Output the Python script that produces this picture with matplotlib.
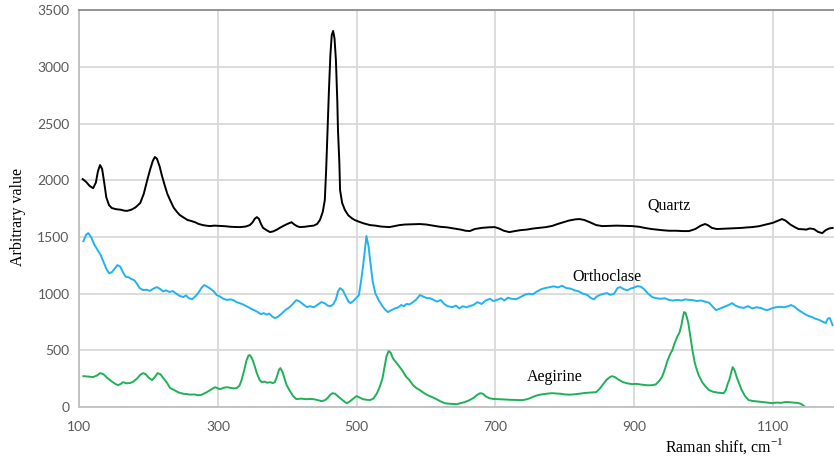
import matplotlib.pyplot as plt

# Raman spectra
quartz_x = [105, 110, 115, 120, 124, 127, 130, 133, 136, 139, 143, 147, 153, 160, 165, 169, 175, 181,
            188, 193, 198, 202, 206, 209, 212, 216, 219, 223, 227, 231, 236, 241, 245, 251, 256, 262,
            267, 272, 278, 283, 288, 295, 302, 310, 318, 325, 332, 340, 346, 350, 353, 356, 359, 362,
            365, 370, 375, 380, 385, 389, 395, 400, 406, 410, 414, 418, 425, 432, 438, 443, 447, 451,
            454, 456, 458, 460, 462, 464, 466, 468, 470, 472, 473, 475, 476, 479, 483, 488, 493, 497,
            503, 510, 519, 527, 535, 547, 555, 562, 570, 580, 591, 600, 610, 620, 630, 640, 650, 657,
            663, 670, 680, 690, 699, 705, 712, 720, 728, 736, 745, 755, 765, 773, 782, 790, 798, 806,
            815, 821, 828, 836, 845, 854, 865, 875, 885, 897, 907, 915, 925, 932, 940, 950, 960, 970,
            979, 988, 996, 1002, 1006, 1012, 1019, 1026, 1035, 1045, 1055, 1062, 1070, 1080, 1090,
            1100, 1108, 1113, 1118, 1125, 1132, 1137, 1143, 1148, 1153, 1159, 1165, 1171, 1176, 1181,
            1186]
quartz_y = [2010, 1985, 1950, 1930, 1980, 2080, 2134, 2100, 1980, 1850, 1780, 1755, 1745, 1740, 1732,
            1730, 1740, 1760, 1800, 1880, 2000, 2090, 2170, 2205, 2190, 2120, 2045, 1960, 1880, 1825,
            1760, 1720, 1693, 1670, 1650, 1640, 1630, 1615, 1605, 1600, 1596, 1600, 1598, 1595, 1590,
            1588, 1587, 1592, 1605, 1630, 1660, 1675, 1660, 1615, 1580, 1560, 1543, 1550, 1565, 1580,
            1600, 1615, 1630, 1610, 1595, 1587, 1590, 1596, 1600, 1615, 1650, 1720, 1825, 2100, 2443,
            2800, 3100, 3280, 3316, 3250, 3060, 2700, 2440, 2150, 1913, 1800, 1737, 1690, 1665, 1650,
            1635, 1620, 1605, 1600, 1592, 1587, 1597, 1605, 1610, 1612, 1614, 1610, 1600, 1590, 1585,
            1575, 1565, 1555, 1552, 1570, 1580, 1585, 1587, 1575, 1555, 1543, 1552, 1560, 1565, 1575,
            1582, 1587, 1598, 1615, 1630, 1645, 1655, 1658, 1650, 1630, 1605, 1596, 1598, 1600, 1598,
            1596, 1590, 1580, 1570, 1565, 1560, 1555, 1555, 1552, 1552, 1570, 1600, 1614, 1605, 1580,
            1570, 1572, 1575, 1578, 1580, 1584, 1587, 1595, 1610, 1625, 1645, 1658, 1645, 1610, 1585,
            1570, 1568, 1565, 1575, 1570, 1545, 1534, 1560, 1575, 1580]

orthoclase_x = [106, 110, 113, 117, 122, 127, 131, 135, 139, 143, 147, 151, 155, 159, 163, 167, 171,
                175, 179, 183, 187, 192, 197, 202, 207, 212, 217, 221, 225, 230, 235, 240, 245, 250,
                254, 258, 263, 268, 272, 276, 280, 285, 290, 294, 298, 303, 308, 313, 318, 322, 327,
                332, 336, 341, 346, 350, 354, 358, 362, 366, 370, 374, 378, 382, 386, 390, 394, 398,
                403, 408, 413, 418, 423, 428, 433, 438, 443, 449, 454, 458, 462, 466, 470, 473, 476,
                480, 484, 488, 491, 495, 499, 503, 506, 509, 512, 514, 517, 520, 523, 527, 532, 537,
                541, 545, 550, 555, 560, 564, 568, 572, 576, 581, 586, 591, 596, 601, 606, 611, 616,
                621, 626, 631, 638, 643, 648, 653, 658, 663, 668, 674, 680, 686, 692, 697, 702, 708,
                713, 718, 723, 730, 736, 742, 748, 754, 760, 766, 772, 778, 784, 790, 796, 802, 808,
                814, 820, 826, 832, 838, 842, 846, 851, 856, 861, 866, 871, 876, 880, 885, 890, 895,
                900, 905, 910, 915, 920, 926, 932, 938, 944, 950, 956, 962, 968, 974, 980, 984, 990,
                996, 1002, 1008, 1014, 1018, 1024, 1030, 1036, 1041, 1046, 1052, 1058, 1064, 1070,
                1076, 1082, 1088, 1092, 1098, 1104, 1110, 1116, 1122, 1126, 1131, 1136, 1141, 1146,
                1151, 1156, 1161, 1166, 1171, 1176, 1179, 1182, 1186]
orthoclase_y = [1463, 1520, 1534, 1500, 1430, 1380, 1340, 1280, 1220, 1180, 1190, 1220, 1252, 1240,
                1190, 1150, 1145, 1130, 1120, 1090, 1050, 1032, 1035, 1025, 1045, 1058, 1040, 1020,
                1030, 1015, 1023, 1000, 980, 970, 985, 960, 952, 980, 1010, 1050, 1076, 1060, 1040,
                1020, 988, 975, 955, 945, 950, 944, 925, 915, 905, 890, 873, 860, 850, 835, 820, 829,
                815, 825, 800, 785, 795, 815, 838, 860, 880, 910, 944, 930, 905, 882, 890, 880, 900,
                926, 915, 895, 890, 905, 950, 1020, 1049, 1030, 980, 930, 917, 935, 960, 985, 1100,
                1235, 1400, 1508, 1420, 1260, 1110, 1000, 940, 890, 860, 838, 855, 870, 880, 900, 890,
                910, 905, 925, 950, 988, 975, 961, 960, 945, 930, 945, 910, 890, 882, 895, 870, 890,
                880, 891, 900, 925, 910, 940, 955, 935, 945, 960, 940, 965, 955, 952, 970, 990, 1000,
                995, 1020, 1040, 1050, 1058, 1065, 1055, 1070, 1050, 1045, 1030, 1020, 1000, 990, 960,
                950, 975, 990, 1000, 1005, 990, 1000, 1050, 1058, 1040, 1030, 1045, 1055, 1067, 1060,
                1035, 1000, 970, 960, 955, 960, 945, 940, 945, 940, 950, 945, 944, 935, 940, 930, 920,
                880, 855, 870, 885, 900, 917, 895, 880, 875, 890, 870, 880, 875, 860, 855, 870, 880,
                885, 880, 890, 900, 885, 860, 840, 820, 805, 794, 780, 770, 755, 741, 780, 785, 723]

aegirine_x = [106, 112, 120, 126, 130, 135, 140, 146, 152, 156, 160, 163, 168, 173, 178, 183, 188,
              192, 196, 200, 205, 209, 213, 217, 222, 227, 231, 237, 243, 250, 255, 260, 266, 271,
              276, 280, 284, 290, 296, 300, 303, 308, 313, 318, 323, 327, 331, 334, 338, 341, 344,
              346, 349, 352, 356, 360, 363, 367, 371, 375, 379, 382, 385, 388, 390, 393, 396, 399,
              403, 408, 413, 420, 427, 433, 437, 442, 449, 454, 458, 462, 465, 469, 473, 478, 483,
              486, 490, 494, 498, 500, 504, 509, 514, 519, 524, 529, 533, 537, 540, 543, 546, 549,
              552, 556, 560, 566, 571, 576, 581, 586, 591, 598, 604, 609, 615, 621, 627, 633, 638,
              644, 650, 656, 662, 668, 673, 678, 682, 686, 691, 697, 705, 712, 720, 728, 735, 739,
              746, 752, 758, 764, 770, 776, 782, 788, 794, 800, 806, 812, 817, 823, 829, 835, 840,
              845, 850, 855, 860, 865, 868, 872, 878, 884, 890, 897, 903, 909, 915, 920, 926, 931,
              936, 940, 944, 948, 952, 955, 958, 962, 965, 968, 970, 972, 974, 976, 978, 981, 984,
              987, 989, 993, 998, 1003, 1008, 1014, 1020, 1025, 1029, 1032, 1035, 1037, 1040, 1042,
              1045, 1048, 1051, 1055, 1060, 1065, 1070, 1078, 1085, 1092, 1099, 1105, 1112, 1118,
              1123, 1129, 1135, 1140, 1145]
aegirine_y = [273, 270, 265, 280, 300, 290, 260, 230, 205, 194, 205, 220, 210, 212, 225, 250, 285,
              300, 290, 260, 238, 265, 300, 290, 250, 210, 168, 150, 130, 118, 115, 110, 112, 105,
              108, 120, 132, 155, 176, 165, 159, 170, 176, 170, 165, 168, 190, 238, 330, 410, 455,
              459, 430, 380, 300, 240, 220, 225, 215, 220, 212, 220, 270, 330, 344, 310, 250, 194,
              150, 100, 71, 75, 70, 72, 71, 65, 53, 60, 80, 110, 123, 118, 95, 70, 45, 35, 50, 70,
              90, 97, 85, 70, 65, 62, 75, 120, 176, 250, 350, 450, 494, 480, 432, 400, 370, 320,
              270, 238, 195, 168, 150, 120, 100, 88, 70, 50, 35, 30, 28, 26, 35, 45, 60, 80, 105,
              123, 118, 95, 79, 72, 70, 68, 65, 63, 62, 62, 70, 85, 100, 110, 115, 120, 123, 120,
              118, 112, 110, 112, 115, 120, 125, 128, 130, 132, 160, 200, 240, 265, 273, 265, 240,
              220, 210, 203, 205, 200, 195, 192, 194, 200, 230, 265, 330, 410, 470, 503, 560, 620,
              653, 720, 790, 838, 830, 790, 741, 620, 500, 400, 353, 280, 220, 180, 150, 135, 128,
              125, 123, 150, 210, 238, 310, 353, 320, 260, 212, 150, 95, 62, 55, 50, 45, 40, 35, 40,
              38, 45, 44, 40, 38, 30, 9]

x_ticks = [100, 300, 500, 700, 900, 1100]
y_ticks = [0, 500, 1000, 1500, 2000, 2500, 3000, 3500]

fig = plt.figure(figsize=(8.34, 4.59), dpi=100)
ax = fig.add_axes([0.095, 0.113, 0.905, 0.865])

ax.plot(quartz_x, quartz_y, color='#000000', lw=1.4)
ax.plot(orthoclase_x, orthoclase_y, color='#1fb3ef', lw=1.4)
ax.plot(aegirine_x, aegirine_y, color='#1eb157', lw=1.4)

serif = 'Liberation Serif'
ax.text(950, 1781, 'Quartz', family=serif, fontsize=11.5, ha='center', va='center')
ax.text(860, 1146, 'Orthoclase', family=serif, fontsize=11.5, ha='center', va='center')
ax.text(785, 265, 'Aegirine', family=serif, fontsize=11.5, ha='center', va='center')

ax.set_xlim(100, 1188)
ax.set_ylim(0, 3500)
ax.set_xticks(x_ticks)
ax.set_yticks(y_ticks)
ax.tick_params(length=0, labelsize=10, labelcolor='#595959')
ax.tick_params(axis='x', pad=10)
ax.tick_params(axis='y', pad=7)
for lab in ax.get_xticklabels() + ax.get_yticklabels():
    lab.set_family('Lato')

ax.grid(True, color='#d9d9d9', lw=1.3)
ax.set_axisbelow(True)
ax.spines['right'].set_visible(False)
ax.spines['top'].set_color('#8c8c8c')
ax.spines['left'].set_color('#bfbfbf')
ax.spines['bottom'].set_color('#bfbfbf')
for s in ax.spines.values():
    s.set_linewidth(1.3)

fig.text(0.021, 0.527, 'Arbitrary value', family=serif, fontsize=11.5, rotation=90,
         ha='center', va='center')
fig.text(0.869, 0.028, 'Raman shift, cm$^{\\mathregular{-1}}$', family=serif, fontsize=11.5,
         ha='center', va='center')

fig.savefig('out.png', dpi=100)
